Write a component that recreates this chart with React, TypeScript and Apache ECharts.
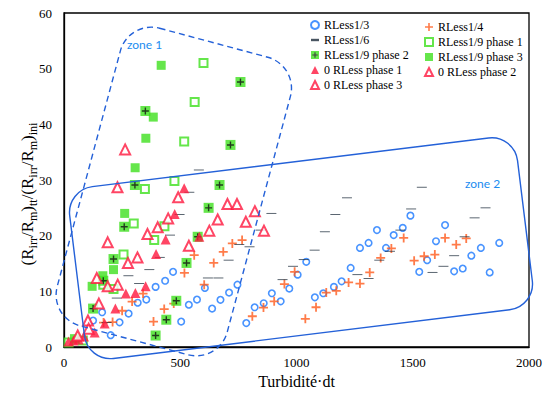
import React, { useEffect, useRef } from "react";
import * as echarts from "echarts";

// ---- data (x = Turbidité·dt, y = ratio) ----
const rless13 = [[125,4.75],[164,6.24],[201,2.12],[239,4.43],[278,6.0],[317,7.95],[354,8.52],[394,10.8],[435,11.9],[469,13.5],[504,4.57],[537,7.59],[572,8.52],[606,10.6],[637,6.9],[673,8.47],[710,9.78],[746,11.2],[784,4.3],[820,7.14],[859,7.86],[894,9.65],[932,8.2],[969,10.5],[1005,13.0],[1042,15.3],[1079,8.93],[1115,9.65],[1161,10.8],[1194,11.8],[1233,14.2],[1273,17.8],[1310,18.7],[1346,21.0],[1385,17.8],[1418,20.1],[1457,21.4],[1490,23.6],[1528,13.5],[1562,15.6],[1600,19.0],[1639,21.9],[1678,13.6],[1715,14.1],[1752,16.4],[1793,17.8],[1831,13.4],[1872,18.7]];
const rless14 = [[170,4.39],[209,4.48],[250,6.51],[293,8.16],[340,9.6],[385,4.57],[431,6.82],[472,7.8],[518,13.3],[560,16.5],[603,11.2],[644,15.1],[685,17.1],[724,18.6],[766,19.2],[810,5.52],[858,7.09],[904,8.2],[948,11.3],[992,13.5],[1038,5.06],[1084,7.14],[1128,9.78],[1171,10.1],[1224,11.6],[1273,11.4],[1315,13.4],[1362,16.0],[1408,17.7],[1461,19.6],[1506,15.5],[1549,16.3],[1595,16.6],[1639,19.6],[1687,18.4],[1730,19.5]];
const rless16 = [[183,4.39],[227,8.79],[277,12.8],[323,11.4],[367,13.9],[412,16.1],[456,20.1],[497,23.8],[539,27.8],[580,31.8],[619,12.4],[664,12.4],[708,15.6],[754,18.4],[798,18.0],[846,21.0],[892,24.0],[940,12.1],[985,14.5],[1031,15.7],[1078,17.4],[1122,20.7],[1167,23.8],[1217,26.8],[1262,13.0],[1310,12.3],[1356,15.6],[1402,17.2],[1447,21.0],[1493,24.8],[1539,28.7],[1585,13.4],[1632,14.5],[1678,16.4],[1723,19.8],[1766,23.2],[1813,25.0]];
const rless19p1 = [[600,51.0],[562,44.0],[517,36.9],[475,29.8],[348,28.4],[300,22.2],[432,21.7],[388,19.2],[256,16.6],[169,11.2],[213,10.4],[81,1.17],[20,0.8]];
const rless19p2 = [[350,42.4],[759,47.6],[716,36.3],[305,29.1],[669,29.1],[622,25.0],[259,21.6],[575,19.8],[213,15.8],[527,15.1],[169,11.9],[125,6.9],[483,8.3],[440,4.9],[394,2.06]];
const rless19p3 = [[418,50.6],[384,41.3],[352,37.5],[306,32.2],[261,24.0],[213,13.9],[167,12.8],[121,10.9],[45,1.5]];
const zeroP1 = [[517,28.5],[476,23.9],[437,19.3],[396,16.7],[351,10.9],[307,9.7],[266,9.6],[221,6.9],[175,4.2],[132,2.6],[86,1.9],[63,1.35],[41,1.17],[19,0.99],[582,19.8]];
const zeroP2 = [[263,35.5],[230,28.7],[491,26.9],[703,25.7],[744,25.7],[821,24.4],[448,23.1],[661,22.9],[782,22.5],[403,21.5],[359,20.3],[625,20.9],[860,20.9],[537,18.2],[316,16.1],[275,15.1]];
const zeroP3 = [[188,18.8],[141,12.4],[231,11.2],[188,10.9],[150,7.8],[103,4.75],[59,2.06],[106,3.3]];

const xTicks = { min: 0, max: 2000, interval: 500 };
const yTicks = { min: 0, max: 60, interval: 10 };

const BLUE = "#1a78ff";
const ORANGE = "#ff5a1c";
const DARK = "#1b2a3a";
const GREEN = "#3ee01e";
const RED = "#ff173d";
const ZONE = "#2461d8";
const ZONETXT = "#1a8cf0";
const SERIF = "Liberation Serif";

const PLUS9 = "path://M3.6,0H5.4V3.6H9V5.4H5.4V9H3.6V5.4H0V3.6H3.6Z";
const PLUS6 = "path://M2.4,0H3.6V2.4H6V3.6H3.6V6H2.4V3.6H0V2.4H2.4Z";
const DASH = "path://M0,0H10V3H0Z";

const greenCrossSvg =
  "<svg xmlns='http://www.w3.org/2000/svg' width='10' height='10'><rect width='10' height='10' fill='" +
  GREEN +
  "'/><path d='M4.3 1.6h1.4v2.7h2.7v1.4H5.7v2.7H4.3V5.7H1.6V4.3h2.7z' fill='#111'/></svg>";
const GREEN_CROSS_ICON =
  "image://data:image/svg+xml;base64," + (typeof btoa !== "undefined" ? btoa(greenCrossSvg) : "");

export default function App() {
  const ref = useRef<HTMLDivElement>(null);
  useEffect(() => {
    if (!ref.current) return;
    const chart = echarts.init(ref.current, undefined, { renderer: "svg" });
    const legendText = { fontFamily: SERIF, fontSize: 12, color: "#000" };
    const deg = Math.PI / 180;
    chart.setOption({
      animation: false,
      backgroundColor: "#fff",
      textStyle: { fontFamily: SERIF },
      grid: {
        left: 64,
        right: 22,
        top: 13,
        bottom: 51,
        show: true,
        borderColor: "#000",
        borderWidth: 1.3,
        outerBoundsMode: "none",
      },
      xAxis: {
        type: "value",
        ...xTicks,
        name: "Turbidité·dt",
        nameLocation: "middle",
        nameGap: 26,
        nameTextStyle: { fontFamily: SERIF, fontSize: 16, color: "#000" },
        axisLine: { show: true, lineStyle: { color: "#000", width: 1.3 } },
        axisTick: { show: false },
        splitLine: { show: false },
        axisLabel: {
          fontFamily: SERIF,
          fontSize: 13,
          color: "#000",
          margin: 9,
          formatter: (v: number) => String(v),
        },
      },
      yAxis: {
        type: "value",
        ...yTicks,
        axisLine: { show: true, lineStyle: { color: "#000", width: 1.3 } },
        axisTick: { show: false },
        splitLine: { show: false },
        axisLabel: {
          fontFamily: SERIF,
          fontSize: 13,
          color: "#000",
          margin: 12,
          formatter: (v: number) => String(v),
        },
      },
      legend: [
        {
          left: 310,
          top: 19,
          padding: 0,
          orient: "vertical",
          itemWidth: 8,
          itemHeight: 8,
          itemGap: 3,
          selectedMode: false,
          textStyle: legendText,
          data: [
            { name: "RLess1/3", icon: "circle" },
            { name: "RLess1/6", icon: DASH },
            { name: "RLess1/9 phase 2", icon: GREEN_CROSS_ICON },
            { name: "0 RLess phase 1", icon: "triangle" },
            { name: "0 RLess phase 3", icon: "triangle" },
          ],
        },
        {
          left: 424,
          top: 21,
          padding: 0,
          orient: "vertical",
          itemWidth: 8,
          itemHeight: 8,
          itemGap: 3,
          selectedMode: false,
          textStyle: legendText,
          data: [
            { name: "RLess1/4", icon: PLUS9 },
            { name: "RLess1/9 phase 1", icon: "rect" },
            { name: "RLess1/9 phase 3", icon: "rect" },
            { name: "0 RLess phase 2", icon: "triangle" },
          ],
        },
      ],
      graphic: [
        {
          type: "rect",
          x: 173.8,
          y: 191.5,
          rotation: -15 * deg,
          shape: { x: -88, y: -154, width: 176, height: 308, r: 32 },
          style: { fill: "none", stroke: ZONE, lineWidth: 1.4, lineDash: [6, 4] },
          z: 100,
          silent: true,
        },
        {
          type: "rect",
          x: 301,
          y: 248.2,
          rotation: 7 * deg,
          shape: { x: -225.5, y: -86.5, width: 451, height: 173, r: 26 },
          style: { fill: "none", stroke: ZONE, lineWidth: 1.4 },
          z: 100,
          silent: true,
        },
        {
          type: "text",
          x: 127,
          y: 44,
          style: {
            text: "zone 1",
            fill: ZONETXT,
            fontFamily: "Lato",
            fontSize: 12,
            verticalAlign: "middle",
          },
          z: 100,
        },
        {
          type: "text",
          x: 465,
          y: 183,
          style: {
            text: "zone 2",
            fill: ZONETXT,
            fontFamily: "Lato",
            fontSize: 12,
            verticalAlign: "middle",
          },
          z: 100,
        },
        {
          type: "text",
          x: 27,
          y: 194,
          rotation: Math.PI / 2,
          style: {
            text:
              "{m|(R}{s|irr}{m|/R}{s|m}{m|)}{s|tt}{m|/(R}{s|irr}{m|/R}{s|m}{m|)}{s|ini}",
            align: "center",
            verticalAlign: "middle",
            fill: "#000",
            rich: {
              m: { fontFamily: SERIF, fontSize: 17, lineHeight: 24, verticalAlign: "middle", fill: "#000" },
              s: { fontFamily: SERIF, fontSize: 12, lineHeight: 24, verticalAlign: "bottom", fill: "#000" },
            },
          },
          z: 100,
        },
      ],
      series: [
        {
          name: "RLess1/3",
          type: "scatter",
          data: rless13,
          symbol: "circle",
          symbolSize: 6.5,
          itemStyle: { color: "#fff", borderColor: BLUE, borderWidth: 1.6 },
        },
        {
          name: "RLess1/4",
          type: "scatter",
          data: rless14,
          symbol: PLUS9,
          symbolSize: 9,
          symbolKeepAspect: true,
          itemStyle: { color: ORANGE },
        },
        {
          name: "RLess1/6",
          type: "scatter",
          data: rless16,
          symbol: DASH,
          symbolSize: [10, 3],
          symbolKeepAspect: true,
          itemStyle: { color: DARK },
        },
        {
          name: "RLess1/9 phase 1",
          type: "scatter",
          data: rless19p1,
          symbol: "rect",
          symbolSize: 8,
          itemStyle: { color: "#fff", borderColor: GREEN, borderWidth: 2 },
        },
        {
          name: "RLess1/9 phase 3",
          type: "scatter",
          data: rless19p3,
          symbol: "rect",
          symbolSize: 9,
          itemStyle: { color: GREEN },
        },
        {
          name: "RLess1/9 phase 2",
          type: "scatter",
          data: rless19p2,
          symbol: "rect",
          symbolSize: 10,
          itemStyle: { color: GREEN },
        },
        {
          name: "p2plus",
          type: "scatter",
          data: rless19p2,
          symbol: PLUS6,
          symbolSize: 7,
          symbolKeepAspect: true,
          itemStyle: { color: "#111" },
          silent: true,
        },
        {
          name: "0 RLess phase 1",
          type: "scatter",
          data: zeroP1,
          symbol: "triangle",
          symbolSize: 10,
          itemStyle: { color: RED },
        },
        {
          name: "0 RLess phase 2",
          type: "scatter",
          data: zeroP2,
          symbol: "triangle",
          symbolSize: 10,
          itemStyle: { color: "#fff", borderColor: RED, borderWidth: 2 },
        },
        {
          name: "0 RLess phase 3",
          type: "scatter",
          data: zeroP3,
          symbol: "triangle",
          symbolSize: 10,
          itemStyle: { color: "#fff", borderColor: RED, borderWidth: 2 },
        },
      ],
    });
    return () => chart.dispose();
  }, []);
  return (
    <div
      ref={ref}
      style={{ position: "fixed", left: 0, top: 0, width: 551, height: 398, background: "#fff" }}
    />
  );
}
